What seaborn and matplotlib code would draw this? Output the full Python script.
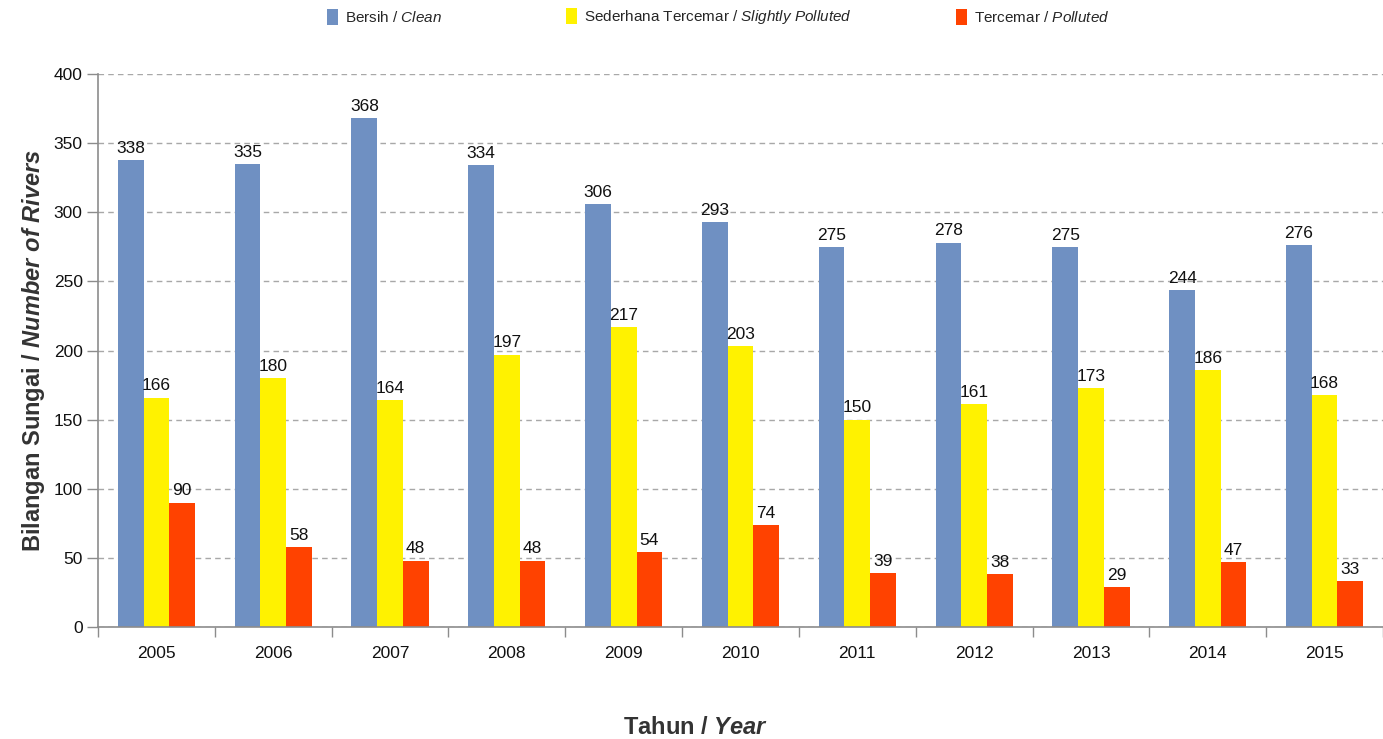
import matplotlib
matplotlib.use("Agg")
import matplotlib.pyplot as plt
import seaborn as sns
import pandas as pd
from matplotlib.patches import Patch

years = ["2005", "2006", "2007", "2008", "2009", "2010", "2011", "2012", "2013", "2014", "2015"]
clean = [338, 335, 368, 334, 306, 293, 275, 278, 275, 244, 276]
slightly = [166, 180, 164, 197, 217, 203, 150, 161, 173, 186, 168]
polluted = [90, 58, 48, 48, 54, 74, 39, 38, 29, 47, 33]
series_names = ["Bersih / Clean", "Sederhana Tercemar / Slightly Polluted", "Tercemar / Polluted"]
legend_labels = [r"Bersih / $\mathit{Clean}$",
                 r"Sederhana Tercemar / $\mathit{Slightly\ Polluted}$",
                 r"Tercemar / $\mathit{Polluted}$"]
colors = ["#6F90C2", "#FFF200", "#FF4200"]
yticks = [0, 50, 100, 150, 200, 250, 300, 350, 400]

sns.set_theme(style="white")
fams = ["Liberation Sans", "DejaVu Sans"]
plt.rcParams["font.family"] = fams
plt.rcParams["mathtext.fontset"] = "custom"
plt.rcParams["mathtext.it"] = "Liberation Sans:italic"
plt.rcParams["mathtext.bf"] = "Liberation Sans:bold:italic"
plt.rcParams["mathtext.rm"] = "Liberation Sans"

rows = []
for name, vals in zip(series_names, [clean, slightly, polluted]):
    for y, v in zip(years, vals):
        rows.append({"year": y, "value": v, "cat": name})
df = pd.DataFrame(rows)

fig = plt.figure(figsize=(13.83, 7.39), dpi=100)
ax = fig.add_axes([98 / 1383, 1 - 627 / 739, 1 - 98 / 1383, (627 - 74) / 739])

sns.barplot(data=df, x="year", y="value", hue="cat", hue_order=series_names,
            palette=colors, width=0.66, gap=0, saturation=1, ax=ax, legend=False,
            errorbar=None, linewidth=0)

for cont in ax.containers:
    ax.bar_label(cont, padding=3, fontsize=12.5, color="#111111")

ax.set_ylim(0, 400)
ax.set_yticks(yticks)
ax.set_xlim(-0.5, len(years) - 0.5)
ax.yaxis.grid(True, linestyle=(0, (4, 3)), color="#A8A8A8", linewidth=1)
ax.set_axisbelow(True)
for s in ["top", "right"]:
    ax.spines[s].set_visible(False)
for s in ["left", "bottom"]:
    ax.spines[s].set_color("#8C8C8C")
    ax.spines[s].set_linewidth(1.2)

ax.tick_params(axis="y", which="both", direction="out", length=8, width=1, color="#8C8C8C",
               labelsize=12.5, labelcolor="#111111", left=True, pad=3)
ax.set_xticks(range(len(years)))
ax.set_xticklabels(years)
ax.tick_params(axis="x", which="major", length=0, labelsize=12.5, labelcolor="#111111", pad=14)
ax.set_xticks([i - 0.5 for i in range(len(years) + 1)], minor=True)
ax.tick_params(axis="x", which="minor", direction="out", length=7, width=1, color="#8C8C8C", bottom=True)

ax.set_xlabel("")
ax.set_ylabel(r"Bilangan Sungai / $\mathbf{Number\ of\ Rivers}$", fontsize=17,
              fontweight="bold", color="#333333", labelpad=5)
fig.text(695 / 1383, 1 - 727 / 739, r"Tahun / $\mathbf{Year}$", fontsize=17,
         fontweight="bold", color="#333333", ha="center", va="center")

xs = [327, 566, 956]
for x0, lab, c in zip(xs, legend_labels, colors):
    fig.legend(handles=[Patch(facecolor=c, edgecolor="none", label=lab)],
               loc="center left", bbox_to_anchor=(x0 / 1383, 1 - 17 / 739),
               frameon=False, fontsize=11, handlelength=0.7, handleheight=1.2,
               handletextpad=0.5, borderaxespad=0, borderpad=0)

fig.savefig("out.png", dpi=100)
